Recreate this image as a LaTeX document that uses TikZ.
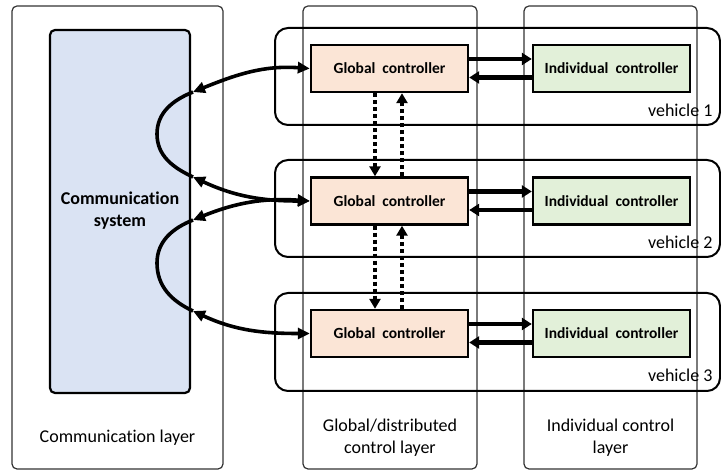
\documentclass[tikz,border=0pt]{standalone}
\usepackage{fontspec}
\setmainfont{Carlito}[Ligatures=NoCommon]
\usetikzlibrary{arrows.meta}
\definecolor{commfill}{HTML}{DAE3F3}
\definecolor{globfill}{HTML}{FBE5D6}
\definecolor{indfill}{HTML}{E2F0D9}
\begin{document}
\begin{tikzpicture}[x=1pt,y=1pt,
  layerbox/.style={draw=black!80,line width=1.2pt,rounded corners=5pt},
  vehbox/.style={draw=black,line width=2pt,rounded corners=13pt},
  ctrl/.style={draw=black,line width=2.4pt,minimum width=157pt,minimum height=47pt,inner sep=0pt,font=\fontsize{15.5}{18}\selectfont\bfseries},
  gctrl/.style={ctrl,fill=globfill},
  ictrl/.style={ctrl,fill=indfill},
  lbl/.style={font=\fontsize{18}{22}\selectfont,align=center},
  bigarrow/.style={line width=3.6pt,{Triangle[length=12pt,width=11pt]}-{Triangle[length=12pt,width=11pt]}},
  plainc/.style={line width=3.6pt},
  harrow/.style={line width=4.5pt,-{Triangle[length=10pt,width=12pt]}},
  darrow/.style={line width=4pt,dash pattern=on 4pt off 3pt,-{Triangle[length=10pt,width=11pt]}}
]
\useasboundingbox (0,0) rectangle (721,471);
% layers
\draw[layerbox] (12,2) rectangle (223,465);
\draw[layerbox] (303,2) rectangle (477,465);
\draw[layerbox] (524,2) rectangle (697,465);
\node[lbl] (ll1) at (117.5,33) {Communication layer};
\node[lbl] (ll2) at (390,33) {Global/distributed\\control layer};
\node[lbl] (ll3) at (610.5,33) {Individual control\\layer};
% comm system
\node[draw=black,line width=2.2pt,fill=commfill,rounded corners=5pt,minimum width=140pt,minimum height=363pt,inner sep=0pt] (cs) at (120,259.5) {};
\node[lbl,font=\fontsize{18}{22}\selectfont\bfseries] (cst) at (120,260) {Communication\\system};
% vehicles
\draw[vehbox] (275,346) rectangle (720,443);
\draw[vehbox] (275,214) rectangle (720,311);
\draw[vehbox] (275,80) rectangle (720,178);
\node[lbl,anchor=base east] (v1) at (716,354) {vehicle 1};
\node[lbl,anchor=base east] (v2) at (716,222) {vehicle 2};
\node[lbl,anchor=base east] (v3) at (716,89) {vehicle 3};
% controllers
\node[gctrl] (g1) at (389.5,402.5) {Global\ \ controller};
\node[gctrl] (g2) at (389.5,270) {Global\ \ controller};
\node[gctrl] (g3) at (389.5,137.5) {Global\ \ controller};
\node[ictrl] (i1) at (611.5,402.5) {Individual\ \ controller};
\node[ictrl] (i2) at (611.5,270) {Individual\ \ controller};
\node[ictrl] (i3) at (611.5,137.5) {Individual\ \ controller};
% horizontal arrows
\foreach \n in {1,2,3}{
  \draw[harrow] ([yshift=9.5pt]g\n.east) -- ([yshift=9.5pt]i\n.west);
  \draw[harrow] ([yshift=-9pt]i\n.west) -- ([yshift=-9pt]g\n.east);
}
% dotted arrows
\draw[darrow] ([xshift=-14.5pt]g1.south) -- ([xshift=-14.5pt]g2.north);
\draw[darrow] ([xshift=12.5pt]g2.north) -- ([xshift=12.5pt]g1.south);
\draw[darrow] ([xshift=-14.5pt]g2.south) -- ([xshift=-14.5pt]g3.north);
\draw[darrow] ([xshift=12.5pt]g3.north) -- ([xshift=12.5pt]g2.south);
% curved arrows
\coordinate (p1) at (193,379);
\coordinate (b1) at (157,337);
\coordinate (p2) at (193,294);
\coordinate (p3) at (193,251);
\coordinate (b2) at (157,208);
\coordinate (p4) at (193,160);
\draw[bigarrow] (g1.west) to[out=176,in=22] (p1);
\draw[plainc] (p1) to[out=202,in=90] (b1) to[out=270,in=155] (p2);
\draw[bigarrow] (p2) to[out=-25,in=180] (g2.west);
\draw[bigarrow] (g2.west) to[out=176,in=22] (p3);
\draw[plainc] (p3) to[out=202,in=90] (b2) to[out=270,in=155] (p4);
\draw[bigarrow] (p4) to[out=-25,in=180] (g3.west);
\end{tikzpicture}
\end{document}
